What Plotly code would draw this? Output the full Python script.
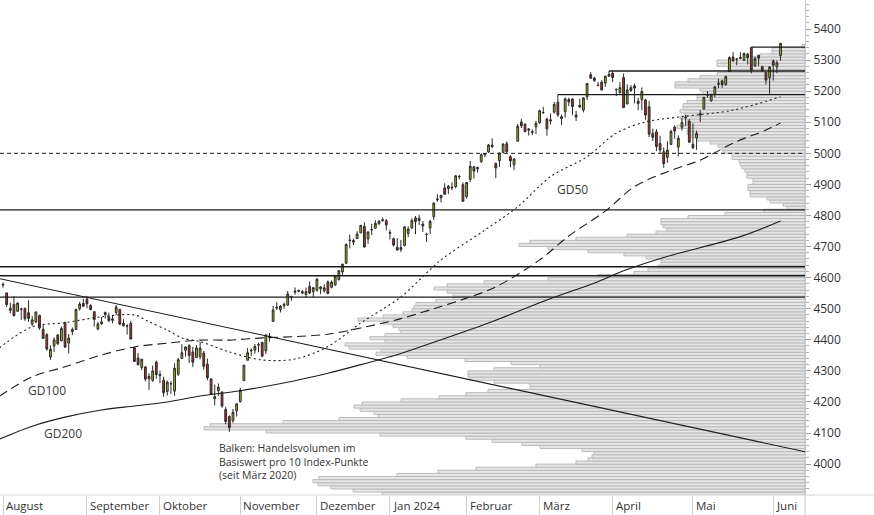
import plotly.graph_objects as go

# ---------------- data ----------------
trading_days = {
    "2023-08": [1,2,3,4,7,8,9,10,11,14,15,16,17,18,21,22,23,24,25,28,29,30,31],
    "2023-09": [1,5,6,7,8,11,12,13,14,15,18,19,20,21,22,25,26,27,28,29],
    "2023-10": [2,3,4,5,6,9,10,11,12,13,16,17,18,19,20,23,24,25,26,27,30,31],
    "2023-11": [1,2,3,6,7,8,9,10,13,14,15,16,17,20,21,22,24,27,28,29,30],
    "2023-12": [1,4,5,6,7,8,11,12,13,14,15,18,19,20,21,22,26,27,28,29],
    "2024-01": [2,3,4,5,8,9,10,11,12,16,17,18,19,22,23,24,25,26,29,30,31],
    "2024-02": [1,2,5,6,7,8,9,12,13,14,15,16,20,21,22,23,26,27,28,29],
    "2024-03": [1,4,5,6,7,8,11,12,13,14,15,18,19,20,21,22,25,26,27,28],
    "2024-04": [1,2,3,4,5,8,9,10,11,12,15,16,17,18,19,22,23,24,25,26,29,30],
    "2024-05": [1,2,3,6,7,8,9,10,13,14,15,16,17,20,21,22,23,24,28,29,30,31],
    "2024-06": [3,4,5],
}
month_labels = ["August", "September", "Oktober", "November", "Dezember", "Jan 2024",
                "Februar", "März", "April", "Mai", "Juni"]

opens = [
    4578.8, 4550.9, 4494.3, 4513.9, 4491.6, 4498.0, 4501.6, 4487.2, 4450.7, 4458.1, 4478.9, 4433.8, 4416.3, 4344.9, 4380.3, 4415.3, 4396.4, 4455.2, 4389.4, 4426.0, 4432.8, 4500.3, 4517.0,
    4530.6, 4510.1, 4490.4, 4434.6, 4451.3, 4481.0, 4473.3, 4462.6, 4487.8, 4498.0, 4445.1, 4445.4, 4452.8, 4374.4, 4341.7, 4310.6, 4312.9, 4282.6, 4269.7, 4328.2,
    4284.5, 4269.8, 4233.8, 4259.3, 4234.8, 4289.0, 4339.8, 4366.6, 4380.9, 4360.5, 4342.4, 4345.2, 4357.4, 4321.4, 4273.9, 4210.4, 4235.8, 4232.4, 4176.0, 4152.9, 4139.4, 4171.3,
    4201.3, 4268.3, 4334.2, 4364.3, 4366.2, 4384.4, 4391.4, 4364.2, 4406.7, 4459.0, 4505.3, 4497.1, 4509.6, 4511.7, 4538.8, 4553.0, 4555.8, 4554.9, 4545.6, 4571.8, 4554.9,
    4559.4, 4564.4, 4557.3, 4586.2, 4568.8, 4576.2, 4593.4, 4618.3, 4646.2, 4721.0, 4714.2, 4725.6, 4743.7, 4764.7, 4724.3, 4753.9, 4758.9, 4773.5, 4786.4, 4782.9,
    4745.2, 4725.1, 4697.4, 4690.6, 4703.7, 4741.9, 4759.9, 4792.1, 4791.2, 4772.4, 4739.1, 4760.1, 4796.3, 4853.4, 4856.8, 4888.6, 4886.7, 4888.9, 4892.9, 4925.9, 4899.2,
    4861.1, 4916.1, 4957.2, 4950.2, 4973.1, 4995.2, 5004.2, 5026.8, 4967.9, 4976.4, 5003.1, 5031.1, 4989.3, 4963.0, 5038.8, 5100.9, 5093.0, 5074.6, 5067.2, 5085.4,
    5098.5, 5131.0, 5110.5, 5108.0, 5132.4, 5164.5, 5112.0, 5134.3, 5173.5, 5175.1, 5123.3, 5154.8, 5139.1, 5181.7, 5253.4, 5242.5, 5219.5, 5228.9, 5226.3, 5248.0,
    5258.0, 5204.3, 5194.4, 5244.1, 5159.0, 5211.4, 5217.0, 5167.9, 5173.0, 5171.5, 5149.7, 5064.6, 5069.0, 5031.5, 5005.4, 4987.3, 5028.9, 5084.7, 5019.9, 5084.0, 5114.1, 5103.8,
    5029.0, 5049.3, 5122.8, 5142.4, 5187.2, 5169.0, 5189.0, 5225.5, 5233.1, 5221.1, 5263.3, 5310.1, 5303.1, 5305.4, 5298.7, 5319.3, 5340.3, 5281.5, 5315.9, 5278.7, 5259.8, 5243.2,
    5297.2, 5278.2, 5314.5,
]
highs = [
    4584.6, 4550.9, 4519.5, 4540.3, 4519.8, 4503.3, 4502.4, 4527.4, 4476.2, 4490.3, 4478.9, 4449.9, 4421.2, 4381.8, 4407.6, 4418.6, 4443.2, 4458.3, 4418.5, 4439.6, 4500.1, 4521.7, 4532.3,
    4541.3, 4514.3, 4490.4, 4457.8, 4473.5, 4490.8, 4487.1, 4479.4, 4512.0, 4498.0, 4466.4, 4449.9, 4461.0, 4375.7, 4357.4, 4338.5, 4313.0, 4292.1, 4317.3, 4333.1,
    4300.6, 4281.2, 4268.5, 4267.1, 4324.1, 4341.7, 4385.5, 4378.6, 4385.9, 4377.1, 4383.3, 4393.6, 4364.2, 4339.5, 4276.6, 4255.8, 4259.4, 4232.4, 4183.6, 4156.7, 4177.5, 4195.6,
    4245.6, 4319.7, 4373.6, 4372.2, 4386.3, 4391.2, 4393.4, 4418.0, 4421.8, 4508.7, 4521.2, 4512.0, 4520.1, 4557.1, 4542.1, 4568.4, 4560.3, 4560.7, 4568.1, 4587.6, 4569.9,
    4599.4, 4572.4, 4578.6, 4590.7, 4590.9, 4609.2, 4622.7, 4643.9, 4709.7, 4738.6, 4725.5, 4749.5, 4768.7, 4778.0, 4748.7, 4772.9, 4784.7, 4785.4, 4793.3, 4788.4,
    4754.3, 4729.3, 4726.8, 4721.5, 4764.5, 4765.5, 4790.8, 4798.5, 4802.4, 4782.3, 4744.2, 4785.8, 4842.1, 4868.4, 4866.5, 4903.7, 4898.2, 4906.7, 4929.3, 4931.1, 4906.8,
    4907.0, 4975.3, 4957.8, 4957.2, 4999.9, 5000.4, 5030.1, 5048.4, 4970.0, 5002.5, 5032.7, 5038.7, 4993.7, 4983.2, 5094.4, 5111.1, 5097.7, 5080.7, 5077.4, 5105.0,
    5140.3, 5149.7, 5114.5, 5128.0, 5165.6, 5189.3, 5124.7, 5179.9, 5179.1, 5176.9, 5136.9, 5175.6, 5180.3, 5226.2, 5261.1, 5246.1, 5229.1, 5235.2, 5249.3, 5264.9,
    5264.0, 5208.3, 5228.8, 5256.6, 5222.2, 5219.6, 5224.8, 5178.4, 5211.8, 5175.0, 5168.4, 5079.8, 5078.0, 5056.7, 5019.0, 5038.8, 5076.1, 5089.5, 5057.8, 5114.6, 5123.5, 5110.8,
    5096.1, 5073.2, 5139.1, 5181.0, 5200.2, 5192.0, 5215.3, 5239.7, 5237.3, 5250.4, 5311.8, 5325.5, 5305.4, 5325.3, 5324.3, 5323.2, 5341.9, 5311.7, 5315.9, 5282.3, 5260.2, 5280.3,
    5302.1, 5298.8, 5354.2,
]
lows = [
    4567.5, 4505.8, 4485.5, 4474.6, 4491.2, 4464.4, 4461.3, 4457.9, 4444.0, 4453.4, 4432.2, 4403.6, 4364.8, 4335.3, 4360.3, 4382.8, 4396.4, 4375.6, 4356.3, 4415.0, 4431.7, 4493.6, 4507.4,
    4501.4, 4496.0, 4442.4, 4430.5, 4448.4, 4467.9, 4456.8, 4453.4, 4478.7, 4447.2, 4442.1, 4416.6, 4401.4, 4329.2, 4316.5, 4302.7, 4266.0, 4238.6, 4264.4, 4274.9,
    4260.2, 4216.5, 4220.5, 4225.9, 4219.6, 4283.8, 4339.6, 4345.3, 4325.4, 4312.0, 4342.4, 4337.5, 4303.8, 4269.7, 4223.0, 4189.2, 4219.4, 4181.4, 4127.9, 4103.8, 4132.9, 4153.1,
    4197.7, 4268.3, 4334.2, 4347.5, 4355.4, 4359.8, 4343.9, 4353.3, 4393.8, 4459.0, 4495.3, 4487.8, 4499.7, 4510.4, 4525.5, 4545.1, 4552.8, 4546.3, 4537.1, 4547.2, 4537.2,
    4554.7, 4546.7, 4551.7, 4546.5, 4565.2, 4574.1, 4590.7, 4608.1, 4643.2, 4694.3, 4704.7, 4725.6, 4743.7, 4697.8, 4708.4, 4736.8, 4758.5, 4768.9, 4781.0, 4752.0,
    4722.7, 4699.7, 4687.5, 4682.1, 4699.8, 4730.4, 4756.2, 4739.6, 4769.0, 4747.1, 4714.8, 4740.6, 4785.9, 4844.1, 4842.1, 4865.9, 4869.3, 4881.5, 4887.4, 4916.5, 4845.2,
    4853.5, 4908.0, 4918.1, 4938.3, 4969.1, 4987.1, 5001.3, 5016.3, 4920.3, 4956.2, 4999.4, 4999.5, 4955.0, 4946.0, 5038.8, 5081.5, 5068.9, 5057.3, 5058.4, 5061.9,
    5094.2, 5127.2, 5056.8, 5092.2, 5128.2, 5117.5, 5091.1, 5114.5, 5151.9, 5123.3, 5104.4, 5145.5, 5131.6, 5171.6, 5240.7, 5229.9, 5216.1, 5203.4, 5213.9, 5246.5,
    5229.2, 5184.1, 5194.4, 5146.1, 5157.2, 5197.4, 5160.8, 5138.7, 5138.8, 5107.9, 5052.5, 5039.8, 5007.3, 5001.9, 4953.6, 4969.4, 5028.0, 5047.0, 4990.6, 5073.1, 5088.7, 5035.3,
    5013.5, 5011.1, 5101.2, 5142.4, 5179.0, 5165.9, 5180.4, 5209.7, 5211.2, 5218.0, 5263.3, 5296.2, 5283.6, 5302.4, 5297.9, 5286.0, 5256.9, 5278.4, 5280.9, 5262.7, 5222.1, 5191.7,
    5234.3, 5257.6, 5297.6,
]
closes = [
    4576.7, 4513.4, 4501.9, 4478.0, 4518.4, 4499.4, 4467.7, 4468.8, 4464.1, 4489.7, 4437.9, 4404.3, 4370.4, 4369.7, 4399.8, 4387.6, 4436.0, 4376.3, 4405.7, 4433.3, 4497.6, 4514.9, 4507.7,
    4515.8, 4496.8, 4465.5, 4451.1, 4457.5, 4487.5, 4461.9, 4467.4, 4505.1, 4450.3, 4453.5, 4444.0, 4402.2, 4330.0, 4320.1, 4337.4, 4273.5, 4274.5, 4299.7, 4288.1,
    4288.4, 4229.5, 4263.8, 4258.2, 4308.5, 4335.7, 4358.2, 4377.0, 4349.6, 4327.8, 4373.6, 4373.2, 4314.6, 4278.0, 4224.2, 4217.0, 4247.7, 4186.8, 4137.2, 4117.4, 4166.8, 4193.8,
    4237.9, 4317.8, 4358.3, 4366.0, 4378.4, 4382.8, 4347.4, 4415.2, 4411.6, 4495.7, 4502.9, 4508.2, 4514.0, 4547.4, 4538.2, 4556.6, 4559.3, 4550.4, 4554.9, 4550.6, 4567.8,
    4594.6, 4569.8, 4567.2, 4549.3, 4585.6, 4604.4, 4622.4, 4643.7, 4707.1, 4719.6, 4719.2, 4740.6, 4768.4, 4698.4, 4746.8, 4754.6, 4774.8, 4781.6, 4783.4, 4769.8,
    4742.8, 4704.8, 4688.7, 4697.2, 4763.5, 4756.5, 4783.5, 4780.2, 4783.8, 4766.0, 4739.2, 4780.9, 4839.8, 4850.4, 4864.6, 4868.6, 4894.2, 4891.0, 4927.9, 4925.0, 4845.7,
    4906.2, 4958.6, 4942.8, 4954.2, 4995.1, 4997.9, 5026.6, 5021.8, 4953.2, 5000.6, 5029.7, 5005.6, 4975.5, 4981.8, 5087.0, 5088.8, 5069.5, 5078.2, 5069.8, 5096.3,
    5137.1, 5131.0, 5078.7, 5104.8, 5157.4, 5123.7, 5117.9, 5175.3, 5165.3, 5150.5, 5117.1, 5149.4, 5178.5, 5224.6, 5241.5, 5234.2, 5218.2, 5203.6, 5248.5, 5254.4,
    5243.8, 5205.8, 5211.5, 5147.2, 5204.3, 5202.4, 5209.9, 5160.6, 5199.1, 5123.4, 5061.8, 5051.4, 5022.2, 5011.1, 4967.2, 5010.6, 5070.6, 5071.6, 5048.4, 5100.0, 5116.2, 5035.7,
    5018.4, 5064.2, 5127.8, 5180.7, 5187.7, 5187.7, 5214.1, 5222.7, 5221.4, 5246.7, 5308.2, 5297.1, 5303.3, 5308.1, 5321.4, 5307.0, 5267.8, 5304.7, 5306.0, 5267.0, 5235.5, 5277.5,
    5283.4, 5291.3, 5354.0,
]

# moving averages (trading-day index, value)
gd50_idx = [-1, 8, 17, 27, 36, 40, 45, 49, 54, 62, 71, 80, 89, 98, 109, 120, 132, 141, 150, 160, 168, 176, 186, 200, 213]
gd50_val = [4374, 4442, 4455, 4474, 4480, 4458, 4431, 4406, 4394, 4361, 4335, 4338, 4378, 4454, 4538, 4657, 4753, 4828, 4925, 4989, 5065, 5101, 5118, 5139, 5182]
gd100_idx = [-1, 8, 17, 27, 36, 45, 54, 62, 71, 80, 89, 98, 109, 118, 126, 135, 147, 155, 165, 173, 182, 191, 200, 209, 213]
gd100_val = [4218, 4281, 4313, 4351, 4377, 4389, 4399, 4399, 4406, 4410, 4418, 4438, 4468, 4500, 4530, 4570, 4657, 4734, 4814, 4893, 4941, 4978, 5033, 5075, 5098]
gd200_idx = [-1, 8, 17, 27, 36, 45, 54, 65, 80, 89, 98, 109, 118, 133, 149, 163, 170, 181, 202, 213]
gd200_val = [4080, 4122, 4151, 4174, 4187, 4200, 4219, 4236, 4268, 4292, 4320, 4356, 4392, 4454, 4528, 4587, 4622, 4665, 4732, 4782]

# trend line (index, value)
trend_idx = [-1, 220]
trend_val = [4597, 4039]

# horizontal levels
full_levels = [4818, 4635, 4606, 4537]
dotted_level = 5000
partial_levels = [5189, 5265, 5342]
partial_start = ["2024-03-08", "2024-03-28", "2024-05-23"]

# volume profile: bins of 10 index points starting at 3900
profile_low = list(range(3900, 5350, 10))
profile_vol = [
    423, 452, 474, 487, 492, 486, 408, 367, 329, 269,
    229, 217, 213, 211, 223, 265, 283, 313, 339, 425,
    539, 601, 595, 522, 466, 427, 431, 445, 451, 443,
    404, 366, 339, 317, 275, 275, 311, 335, 337, 337,
    311, 265, 294, 340, 398, 429, 424, 456, 460, 420,
    435, 420, 404, 406, 412, 422, 447, 422, 402, 393,
    391, 389, 369, 352, 352, 358, 371, 358, 321, 257,
    207, 171, 157, 147, 144, 144, 159, 181, 217, 257,
    286, 275, 229, 178, 149, 138, 142, 144, 144, 117,
    80, 41, 18,
    22, 35, 38, 55, 55, 57, 57, 52, 52, 58,
    58, 60, 63, 65, 66, 73, 73, 82, 83, 87,
    95, 108, 115, 118, 118, 128, 118, 118, 125, 120,
    125, 122, 122, 118, 108, 108, 102, 105, 130, 130,
    117, 105, 88, 77, 77, 88, 88, 54, 45, 33,
    33, 3,
]

# ---------------- build ----------------
dates = [f"{ym}-{d:02d}" for ym, days in trading_days.items() for d in days]
idx = list(range(len(dates)))
assert len(opens) == len(highs) == len(lows) == len(closes) == len(dates)
assert len(profile_vol) == len(profile_low)

month_start = []
seen = set()
for i, d in enumerate(dates):
    if d[:7] not in seen:
        seen.add(d[:7]); month_start.append(i)

X_MIN, X_MAX = -0.822, 219.7
Y_MIN, Y_MAX = 3900.5, 5493.4
FONT = "Open Sans"
TXT = "#333333"
LINE = "#1c1c1c"

fig = go.Figure()

# profile bars on the base (hidden, reversed) x axis
fig.add_trace(go.Bar(
    x=profile_vol, y=[b + 5 for b in profile_low], orientation="h", width=10, base=0,
    marker=dict(color="#e6e6e6", line=dict(color="#bababa", width=1)),
    xaxis="x", yaxis="y", hoverinfo="skip"))

def line_trace(xs, ys, width=1.2, dash="solid", color=LINE, shape="linear"):
    return go.Scatter(x=xs, y=ys, mode="lines", xaxis="x2", yaxis="y",
                      line=dict(color=color, width=width, dash=dash, shape=shape,
                                smoothing=0.9 if shape == "spline" else None),
                      hoverinfo="skip")

for lv in full_levels:
    fig.add_trace(line_trace([X_MIN, X_MAX], [lv, lv], width=1.3))
fig.add_trace(line_trace([X_MIN, X_MAX], [dotted_level, dotted_level], width=1, dash="4px,3px"))
for lv, d in zip(partial_levels, partial_start):
    fig.add_trace(line_trace([dates.index(d), X_MAX], [lv, lv], width=1.3))

fig.add_trace(line_trace(trend_idx, trend_val, width=1.1))
fig.add_trace(line_trace(gd200_idx, gd200_val, width=1.1, shape="spline"))
fig.add_trace(line_trace(gd100_idx, gd100_val, width=1.1, dash="9px,5px", shape="spline"))
fig.add_trace(line_trace(gd50_idx, gd50_val, width=1.1, dash="2px,3px", shape="spline"))

fig.add_trace(go.Candlestick(
    x=idx, open=opens, high=highs, low=lows, close=closes,
    increasing=dict(fillcolor="#a3b623", line=dict(color="#2a2a2a", width=1)),
    decreasing=dict(fillcolor="#b3312b", line=dict(color="#2a2a2a", width=1)),
    whiskerwidth=0, xaxis="x2", yaxis="y", hoverinfo="skip"))

annotations = []
for i, lab in zip(month_start, month_labels):
    annotations.append(dict(x=i, y=0, xref="x2", yref="paper", text=lab, showarrow=False,
                            xanchor="left", yanchor="top", xshift=1, yshift=-1,
                            font=dict(family=FONT, size=11.5, color=TXT)))
for txt, xi, yv in [("GD50", 155.9, 4882), ("GD100", 12.1, 4238), ("GD200", 16.4, 4097)]:
    annotations.append(dict(x=xi, y=yv, xref="x2", yref="y", text=txt, showarrow=False,
                            xanchor="center", yanchor="middle",
                            font=dict(family=FONT, size=12, color="#3a3a3a")))
annotations.append(dict(x=58.7, y=4080, xref="x2", yref="y",
                        text="Balken: Handelsvolumen im<br>Basiswert pro 10 Index-Punkte<br>(seit März 2020)",
                        showarrow=False, xanchor="left", yanchor="top", align="left",
                        font=dict(family=FONT, size=10.5, color=TXT)))

shapes = [
    dict(type="line", xref="paper", yref="paper", x0=0, x1=874 / 805, y0=0, y1=0,
         line=dict(color="#d6d6d6", width=1)),
    dict(type="line", xref="paper", yref="paper", x0=1, x1=1, y0=-20 / 495, y1=0,
         line=dict(color="#c8c8c8", width=1)),
]

fig.update_layout(
    width=874, height=515, margin=dict(l=0, r=69, t=0, b=20),
    paper_bgcolor="white", plot_bgcolor="white", showlegend=False,
    font=dict(family=FONT, color=TXT),
    xaxis=dict(range=[805, 0], visible=False, fixedrange=True, rangeslider=dict(visible=False)),
    xaxis2=dict(overlaying="x", anchor="y", side="bottom", range=[X_MIN, X_MAX],
                showgrid=False, zeroline=False, showline=False,
                tickmode="array", tickvals=month_start, ticks="outside", ticklen=20,
                tickcolor="#cfcfcf", tickwidth=1, showticklabels=False,
                rangeslider=dict(visible=False)),
    yaxis=dict(side="right", anchor="x", range=[Y_MIN, Y_MAX], dtick=100, tick0=0,
               showgrid=False, zeroline=False, showline=True, linecolor="#c8c8c8", linewidth=1,
               ticks="outside", ticklen=5, tickcolor="#a0a0a0",
               tickfont=dict(family=FONT, size=12, color=TXT),
               minor=dict(dtick=20, tick0=0, ticks="outside", ticklen=3, tickcolor="#b0b0b0")),
    annotations=annotations, shapes=shapes,
)

fig.write_html("out.html", config={"displayModeBar": False})
